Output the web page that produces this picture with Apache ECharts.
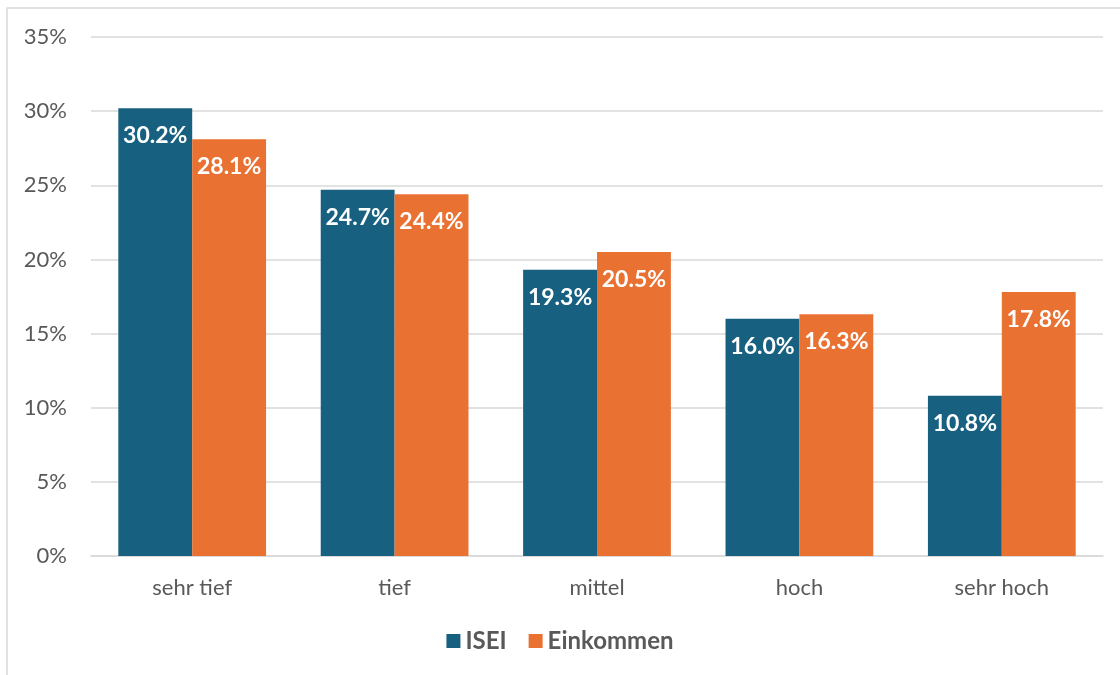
<!DOCTYPE html>
<html>
<head>
<meta charset="utf-8">
<script src="https://cdn.jsdelivr.net/npm/echarts@6/dist/echarts.min.js"></script>
<style>
  html, body { margin: 0; padding: 0; background: #fff; }
  #main { width: 1120px; height: 675px; }
</style>
</head>
<body>
<div id="main"></div>
<script>
// Kategorien und Werte (Anteile in %)
var categories = ['sehr tief', 'tief', 'mittel', 'hoch', 'sehr hoch'];
var iseiValues = [30.2, 24.7, 19.3, 16.0, 10.8];
var einkommenValues = [28.1, 24.4, 20.5, 16.3, 17.8];

var chart = echarts.init(document.getElementById('main'), null, { renderer: 'canvas' });

var labelStyle = {
    show: true,
    position: 'insideTop',
    distance: 16,
    color: '#ffffff',
    fontWeight: 'bold',
    fontSize: 23,
    fontFamily: 'Lato',
    formatter: function (p) { return p.value.toFixed(1) + '%'; }
};

var option = {
    backgroundColor: '#ffffff',
    textStyle: { fontFamily: 'Lato' },
    graphic: [{
        type: 'rect',
        shape: { x: 7, y: 8, width: 1130, height: 690 },
        style: { fill: 'none', stroke: '#d9d9d9', lineWidth: 1.5 },
        silent: true
    }],
    color: ['#17607f', '#e97132'],
    legend: {
        data: ['ISEI', 'Einkommen'],
        bottom: 17,
        left: 'center',
        icon: 'rect',
        itemWidth: 14,
        itemHeight: 14,
        itemGap: 22,
        itemStyle: { borderWidth: 0 },
        textStyle: {
            color: '#595959',
            fontSize: 24,
            fontWeight: 'bold',
            fontFamily: 'Lato'
        }
    },
    grid: {
        left: 91,
        right: 17,
        top: 37,
        bottom: 119,
        containLabel: false
    },
    xAxis: {
        type: 'category',
        data: categories,
        axisTick: { show: false },
        axisLine: { lineStyle: { color: '#d9d9d9', width: 1.5 } },
        axisLabel: {
            color: '#595959',
            fontSize: 22,
            margin: 21
        }
    },
    yAxis: {
        type: 'value',
        min: 0,
        max: 35,
        interval: 5,
        axisLine: { show: false },
        axisTick: { show: false },
        splitLine: { lineStyle: { color: '#d9d9d9', width: 1.5 } },
        axisLabel: {
            color: '#595959',
            fontSize: 22,
            margin: 24,
            formatter: '{value}%'
        }
    },
    series: [{
        name: 'ISEI',
        type: 'bar',
        data: iseiValues,
        barGap: '0%',
        barCategoryGap: '27%',
        label: labelStyle
    }, {
        name: 'Einkommen',
        type: 'bar',
        data: einkommenValues,
        label: labelStyle
    }]
};
chart.setOption(option);
</script>
</body>
</html>
